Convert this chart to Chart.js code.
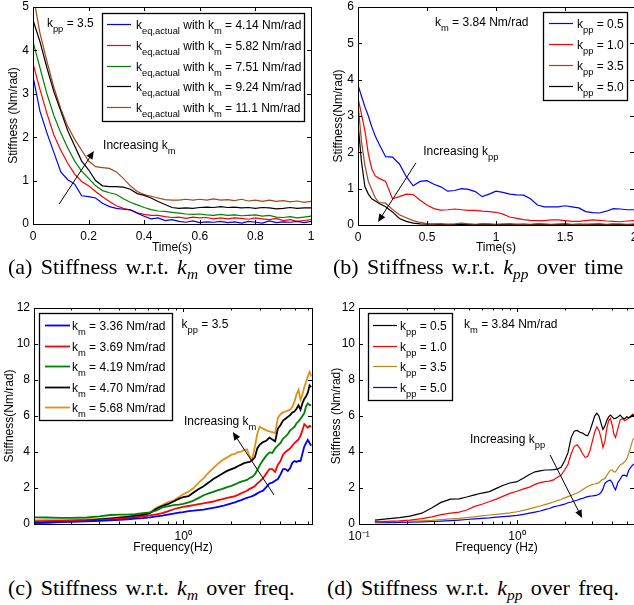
<!DOCTYPE html>
<html>
<head>
<meta charset="utf-8">
<script src="https://cdn.jsdelivr.net/npm/chart.js@4.4.1/dist/chart.umd.min.js"></script>
<style>
html,body{margin:0;padding:0;background:#fff;}
body{position:relative;width:634px;height:605px;overflow:hidden;}
canvas{position:absolute;}
.cap{position:absolute;font-family:'Liberation Serif','Times New Roman',serif;font-size:22px;word-spacing:2.8px;white-space:nowrap;color:#000;line-height:1;}
.cap i{font-style:italic;}
.cap sub{font-size:70%;vertical-align:baseline;position:relative;top:0.3em;font-style:italic;}
</style>
</head>
<body>
<canvas id="chartA" width="316" height="260" style="left:0;top:0"></canvas>
<canvas id="chartB" width="320" height="260" style="left:318px;top:0"></canvas>
<canvas id="chartC" width="316" height="260" style="left:0;top:300px"></canvas>
<canvas id="chartD" width="320" height="260" style="left:318px;top:300px"></canvas>
<div class="cap" style="left:8px;top:256px">(a) Stiffness w.r.t. <i>k</i><sub>m</sub> over time</div>
<div class="cap" style="left:333px;top:256px">(b) Stiffness w.r.t. <i>k</i><sub>pp</sub> over time</div>
<div class="cap" style="left:8px;top:577px">(c) Stiffness w.r.t. <i>k</i><sub>m</sub> over freq.</div>
<div class="cap" style="left:327px;top:577px">(d) Stiffness w.r.t. <i>k</i><sub>pp</sub> over freq.</div>
<script>
// ================== (a) stiffness over time, varying k_m ==================
const timeA = [0,0.025,0.05,0.075,0.1,0.125,0.15,0.175,0.2,0.225,0.25,0.275,0.3,0.325,0.35,0.375,0.4,0.425,0.45,0.475,0.5,0.525,0.55,0.575,0.6,0.625,0.65,0.675,0.7,0.725,0.75,0.775,0.8,0.825,0.85,0.875,0.9,0.925,0.95,0.975,1];
const km414A = [3.4,2.6,2.1,1.65,1.2,1.02,0.92,0.65,0.63,0.6,0.48,0.4,0.36,0.34,0.33,0.25,0.18,0.12,0.14,0.08,0.1,0.06,0.04,0.07,0.03,0.05,0.04,0.06,0.03,0.05,0.02,0.06,0.04,0.02,0.07,0.03,0.05,0.04,0.06,0.03,0.06];
const km582A = [3.7,3.1,2.55,2.05,1.7,1.4,1.15,0.98,0.88,0.75,0.63,0.52,0.42,0.36,0.32,0.26,0.22,0.2,0.2,0.17,0.15,0.16,0.13,0.16,0.14,0.15,0.12,0.14,0.12,0.14,0.13,0.11,0.14,0.12,0.1,0.13,0.08,0.1,0.06,0.08,0.1];
const km751A = [4.2,3.6,3.0,2.5,2.1,1.75,1.45,1.22,1.05,0.88,0.77,0.72,0.68,0.58,0.5,0.44,0.38,0.33,0.3,0.29,0.27,0.25,0.23,0.22,0.23,0.21,0.2,0.22,0.2,0.21,0.19,0.2,0.21,0.18,0.2,0.16,0.15,0.17,0.14,0.16,0.18];
const km924A = [4.7,4.2,3.6,3.05,2.6,2.15,1.8,1.45,1.25,1.0,0.88,0.86,0.86,0.85,0.8,0.7,0.66,0.6,0.52,0.45,0.38,0.36,0.37,0.36,0.38,0.39,0.38,0.4,0.38,0.39,0.37,0.38,0.36,0.38,0.37,0.35,0.36,0.38,0.36,0.37,0.37];
const km111A = [5.3,4.4,3.75,3.15,2.65,2.25,1.95,1.7,1.45,1.32,1.3,1.28,1.2,1.05,0.88,0.75,0.68,0.64,0.6,0.56,0.55,0.55,0.57,0.55,0.57,0.55,0.58,0.55,0.56,0.54,0.57,0.53,0.55,0.52,0.55,0.52,0.54,0.51,0.53,0.5,0.52];
const labelsA = ['k_{eq,actual} with k_{m} = 4.14 Nm/rad','k_{eq,actual} with k_{m} = 5.82 Nm/rad','k_{eq,actual} with k_{m} = 7.51 Nm/rad','k_{eq,actual} with k_{m} = 9.24 Nm/rad','k_{eq,actual} with k_{m} = 11.1 Nm/rad'];
const xTicksA = [0,0.2,0.4,0.6,0.8,1];
const yTicksA = [0,1,2,3,4,5];

// ================== (b) stiffness over time, varying k_pp ==================
const timeB = [0,0.025,0.05,0.075,0.1,0.125,0.15,0.2,0.25,0.3,0.35,0.4,0.45,0.5,0.55,0.6,0.65,0.7,0.75,0.8,0.85,0.9,0.95,1,1.05,1.1,1.15,1.2,1.25,1.3,1.35,1.4,1.45,1.5,1.55,1.6,1.65,1.7,1.75,1.8,1.85,1.9,1.95,2];
const kpp05B = [3.85,3.55,3.25,3.0,2.7,2.45,2.25,1.88,1.87,1.68,1.33,1.08,1.2,1.22,1.12,1.05,0.93,0.95,1.0,0.98,0.92,0.78,0.85,0.93,0.9,0.85,0.83,0.82,0.72,0.55,0.5,0.5,0.5,0.53,0.5,0.47,0.37,0.34,0.33,0.38,0.45,0.44,0.42,0.42];
const kpp10B = [3.5,3.05,2.6,1.95,1.55,1.35,1.29,1.2,0.72,0.78,0.85,0.84,0.68,0.55,0.45,0.41,0.42,0.44,0.42,0.4,0.4,0.38,0.37,0.35,0.3,0.22,0.18,0.15,0.13,0.12,0.12,0.14,0.14,0.12,0.1,0.1,0.12,0.14,0.13,0.11,0.1,0.09,0.11,0.12];
const kpp35B = [3.35,2.3,1.65,1.2,0.97,0.75,0.62,0.6,0.43,0.28,0.2,0.12,0.07,0.04,0.03,0.04,0.02,0.03,0.05,0.03,0.02,0.04,0.03,0.02,0.03,0.04,0.02,0.03,0.02,0.04,0.03,0.02,0.03,0.04,0.02,0.03,0.02,0.03,0.04,0.02,0.03,0.03,0.02,0.03];
const kpp50B = [2.8,1.75,1.06,0.85,0.72,0.66,0.6,0.5,0.36,0.18,0.1,0.05,0.03,0.02,0.02,0.01,0.02,0.01,0.01,0.02,0.01,0.01,0.02,0.01,0.01,0.01,0.02,0.01,0.01,0.02,0.01,0.01,0.01,0.02,0.01,0.01,0.02,0.01,0.01,0.01,0.02,0.01,0.01,0.01];
const labelsB = ['k_{pp} = 0.5','k_{pp} = 1.0','k_{pp} = 3.5','k_{pp} = 5.0'];
const xTicksB = [0,0.5,1,1.5,2];
const yTicksB = [0,1,2,3,4,5,6];

// ================== (c) stiffness over frequency, varying k_m ==================
const freqC = [0.117,0.14,0.17,0.2,0.25,0.3,0.35,0.4,0.45,0.5,0.56,0.62,0.68,0.74,0.8,0.87,0.94,1.0,1.08,1.16,1.25,1.34,1.44,1.54,1.65,1.76,1.88,2.0,2.1,2.2,2.3,2.4,2.5,2.6,2.7,2.8,2.9,3.0,3.15,3.3,3.45,3.6,3.75,3.9,4.05,4.2,4.35,4.5,4.65,4.8,4.95,5.1,5.25,5.4,5.55,5.7,5.85,6.0,6.15,6.3];
const km336C = [0.05,0.07,0.1,0.12,0.15,0.18,0.2,0.23,0.26,0.3,0.33,0.37,0.42,0.46,0.52,0.58,0.63,0.66,0.72,0.74,0.77,0.8,0.85,0.9,0.95,1.0,1.08,1.15,1.2,1.27,1.33,1.4,1.45,1.5,1.55,1.62,1.7,1.78,1.85,2.05,2.25,2.3,2.4,2.5,2.75,3.05,3.05,2.95,3.1,3.4,3.5,3.45,3.5,3.5,3.9,4.3,4.5,4.67,4.5,4.35];
const km369C = [0.15,0.16,0.17,0.18,0.2,0.22,0.26,0.3,0.33,0.37,0.42,0.48,0.54,0.6,0.7,0.82,0.9,0.95,1.0,1.05,1.1,1.15,1.2,1.25,1.32,1.38,1.45,1.5,1.55,1.62,1.7,1.78,1.85,1.95,2.02,2.1,2.25,2.35,2.55,2.8,3.05,3.05,2.9,3.3,3.5,3.85,4.0,4.1,4.2,4.35,4.5,4.6,4.7,4.9,5.2,5.55,5.45,5.35,5.45,5.4];
const km419C = [0.37,0.36,0.34,0.34,0.36,0.42,0.5,0.52,0.52,0.55,0.6,0.65,0.75,0.92,0.98,1.05,1.08,1.12,1.2,1.3,1.45,1.6,1.7,1.78,1.88,1.95,2.05,2.12,2.2,2.28,2.35,2.4,2.45,2.55,2.62,2.75,3.0,3.25,3.55,3.8,3.98,3.95,4.2,4.35,4.5,4.75,4.85,5.0,5.2,5.3,5.4,5.6,5.7,5.85,6.0,6.15,6.55,6.7,6.6,6.6];
const km470C = [0.1,0.12,0.15,0.17,0.2,0.25,0.3,0.35,0.4,0.45,0.5,0.6,0.85,1.0,1.1,1.25,1.4,1.5,1.55,1.75,1.95,2.1,2.3,2.5,2.65,2.8,2.95,3.05,3.12,3.22,3.3,3.38,3.42,3.45,3.55,3.7,4.2,4.4,4.55,4.62,4.8,4.7,4.6,5.3,5.5,5.75,5.85,5.95,6.05,6.2,6.25,6.4,6.6,6.35,6.7,6.95,7.1,7.3,7.7,7.6];
const km568C = [0.2,0.21,0.22,0.23,0.25,0.28,0.32,0.36,0.4,0.46,0.52,0.65,0.9,1.05,1.2,1.3,1.5,1.65,1.8,2.0,2.3,2.55,2.85,3.1,3.35,3.55,3.7,3.85,3.9,4.0,4.02,4.1,4.15,3.75,3.6,4.3,5.0,5.4,5.3,5.2,5.15,5.1,5.05,5.9,6.1,6.2,6.25,6.3,6.35,6.5,6.8,7.2,7.45,6.9,7.2,7.6,7.9,8.2,8.45,8.2];
const labelsC = ['k_{m} = 3.36 Nm/rad','k_{m} = 3.69 Nm/rad','k_{m} = 4.19 Nm/rad','k_{m} = 4.70 Nm/rad','k_{m} = 5.68 Nm/rad'];
const xTicksC = [1];
const yTicksCD = [0,2,4,6,8,10,12];

// ================== (d) stiffness over frequency, varying k_pp ==================
const freqD = [0.126,0.15,0.18,0.21,0.25,0.29,0.33,0.38,0.43,0.48,0.54,0.6,0.67,0.74,0.82,0.9,1.0,1.1,1.2,1.3,1.4,1.5,1.6,1.7,1.8,1.9,2.0,2.1,2.2,2.3,2.4,2.5,2.6,2.7,2.8,2.9,3.0,3.1,3.2,3.3,3.4,3.5,3.6,3.7,3.8,3.9,4.0,4.1,4.2,4.35,4.5,4.65,4.8,4.95,5.1,5.25,5.4,5.55];
const kpp05D = [0.22,0.28,0.35,0.44,0.6,0.9,1.2,1.38,1.4,1.5,1.62,1.72,1.8,1.98,2.15,2.28,2.35,2.55,2.75,2.9,2.95,3.0,3.0,3.02,3.05,3.15,3.5,3.95,4.8,5.15,5.2,5.1,5.05,4.95,4.9,5.2,5.6,6.0,6.15,6.0,5.6,5.25,5.45,5.75,5.95,6.05,5.95,5.85,5.87,5.95,6.05,5.9,5.85,5.96,5.9,5.95,6.06,6.0];
const kpp10D = [0.13,0.15,0.18,0.22,0.3,0.4,0.52,0.6,0.66,0.78,0.98,1.1,1.25,1.38,1.55,1.7,1.82,1.95,2.05,2.2,2.3,2.35,2.38,2.45,2.6,2.7,3.0,3.3,3.9,4.3,4.4,4.2,3.9,3.7,3.75,4.1,4.6,5.1,5.4,5.2,4.8,4.25,4.6,5.3,5.75,5.87,5.5,5.0,4.8,5.3,5.8,5.85,5.75,5.8,5.9,6.0,6.1,5.95];
const kpp35D = [0.12,0.13,0.14,0.16,0.18,0.2,0.24,0.28,0.31,0.35,0.4,0.45,0.5,0.54,0.58,0.62,0.68,0.76,0.84,0.92,1.0,1.08,1.15,1.22,1.3,1.36,1.45,1.52,1.58,1.65,1.72,1.8,1.9,2.0,2.08,2.15,2.2,2.22,2.26,2.3,2.4,2.48,2.54,2.7,2.85,3.0,3.0,2.9,2.9,3.1,3.28,3.35,3.46,3.6,3.93,4.3,4.67,4.8];
const kpp50D = [0.07,0.08,0.09,0.1,0.12,0.14,0.16,0.19,0.22,0.25,0.28,0.31,0.34,0.38,0.41,0.44,0.48,0.53,0.6,0.66,0.72,0.8,0.86,0.95,1.0,1.05,1.1,1.18,1.22,1.28,1.32,1.38,1.42,1.48,1.52,1.55,1.56,1.58,1.6,1.65,1.75,1.95,2.26,2.35,2.42,2.44,2.3,2.05,1.9,2.3,2.5,2.7,2.72,2.65,3.0,3.15,3.28,3.35];
const labelsD = ['k_{pp} = 0.5','k_{pp} = 1.0','k_{pp} = 3.5','k_{pp} = 5.0'];
const xTicksD = [0.1,1];

// =============== helpers ===============
const FONT = "'Liberation Sans', Arial, Helvetica, sans-serif";
const TF = {family: FONT, size: 12};

// draws "k_{m} = 3" style text, subscripts in braces; y is the baseline
function rich(ctx, str, x, y, size){
  const parts = str.split(/_\{([^}]*)\}/);
  let cx = x;
  parts.forEach((p, i) => {
    if(!p) return;
    const sub = i % 2 === 1;
    ctx.font = (sub ? size * 0.78 : size) + 'px ' + FONT;
    ctx.fillText(p, cx, sub ? y + size * 0.42 : y);
    cx += ctx.measureText(p).width;
  });
  return cx - x;
}

const supers = {'1':'10⁰','0.1':'10⁻¹'};

// MATLAB-like frame, inner ticks, boxed legend, notes and arrow
const matlab = {
  id: 'matlab',
  afterDatasetsDraw(chart, args, o){
    const {ctx, chartArea: a, scales: {x, y}} = chart;
    ctx.save();
    ctx.strokeStyle = '#000'; ctx.lineWidth = 1;
    ctx.beginPath();
    const vt = (px, len) => { px = Math.round(px) + 0.5; ctx.moveTo(px, a.bottom); ctx.lineTo(px, a.bottom - len); ctx.moveTo(px, a.top); ctx.lineTo(px, a.top + len); };
    const ht = (py, len) => { py = Math.round(py) + 0.5; ctx.moveTo(a.left, py); ctx.lineTo(a.left + len, py); ctx.moveTo(a.right, py); ctx.lineTo(a.right - len, py); };
    x.ticks.forEach(t => vt(x.getPixelForValue(t.value), 4));
    y.ticks.forEach(t => ht(y.getPixelForValue(t.value), 4));
    if(x.type === 'logarithmic'){
      [0.01, 0.1, 1, 10].forEach(d => { for(let k = 2; k < 10; k++){ const v = k * d; if(v > x.min && v < x.max) vt(x.getPixelForValue(v), 2.5); } });
    }
    ctx.stroke();
    ctx.strokeRect(Math.round(a.left) + 0.5, Math.round(a.top) + 0.5, Math.round(a.right - a.left), Math.round(a.bottom - a.top));

    // legend
    const g = o.legend;
    ctx.fillStyle = '#fff'; ctx.fillRect(g.x, g.y, g.w, g.h);
    ctx.lineWidth = 1.3; ctx.strokeStyle = '#000'; ctx.strokeRect(g.x + 0.5, g.y + 0.5, g.w, g.h);
    ctx.textAlign = 'left'; ctx.textBaseline = 'alphabetic';
    chart.data.datasets.forEach((ds, i) => {
      const cy = Math.round(g.row0 + i * g.step) + 0.5;
      ctx.strokeStyle = ds.borderColor; ctx.lineWidth = ds.borderWidth;
      ctx.beginPath(); ctx.moveTo(g.x0, cy); ctx.lineTo(g.x1, cy); ctx.stroke();
      ctx.fillStyle = '#000';
      rich(ctx, ds.label, g.tx, cy + 4, 12);
    });

    // notes
    ctx.fillStyle = '#000';
    (o.notes || []).forEach(n => rich(ctx, n.text, x.getPixelForValue(n.x), y.getPixelForValue(n.y), 12));

    // arrow
    if(o.arrow){
      const x0 = x.getPixelForValue(o.arrow.from[0]), y0 = y.getPixelForValue(o.arrow.from[1]);
      const x1 = x.getPixelForValue(o.arrow.to[0]), y1 = y.getPixelForValue(o.arrow.to[1]);
      const ang = Math.atan2(y1 - y0, x1 - x0), hl = 8, hw = 3.5;
      ctx.strokeStyle = '#000'; ctx.lineWidth = 1;
      ctx.beginPath(); ctx.moveTo(x0, y0); ctx.lineTo(x1 - Math.cos(ang) * hl * 0.7, y1 - Math.sin(ang) * hl * 0.7); ctx.stroke();
      const bx = x1 - Math.cos(ang) * hl, by = y1 - Math.sin(ang) * hl;
      ctx.beginPath();
      ctx.moveTo(x1, y1);
      ctx.lineTo(bx - Math.sin(ang) * hw, by + Math.cos(ang) * hw);
      ctx.lineTo(bx + Math.sin(ang) * hw, by - Math.cos(ang) * hw);
      ctx.closePath(); ctx.fill();
    }
    ctx.restore();
  }
};

function series(xs, list, labels, colors, width){
  return list.map((vals, i) => ({
    label: labels[i],
    data: vals.map((v, j) => ({x: xs[j], y: v})),
    borderColor: colors[i], borderWidth: width,
    pointRadius: 0, fill: false, tension: 0
  }));
}

function build(id, o){
  const fmt = o.xLog ? (v => supers[String(v)] || '') : (v => String(v));
  return new Chart(document.getElementById(id), {
    type: 'line',
    data: {datasets: o.datasets},
    options: {
      responsive: false, animation: false, devicePixelRatio: 1,
      layout: {padding: o.pad},
      plugins: {legend: {display: false}, tooltip: {enabled: false}, matlab: o.deco},
      scales: {
        x: {
          type: o.xLog ? 'logarithmic' : 'linear', min: o.xMin, max: o.xMax,
          grid: {display: false, drawTicks: false}, border: {display: false},
          ticks: {font: TF, color: '#000', padding: 5, autoSkip: false, maxRotation: 0, callback: fmt},
          afterBuildTicks: s => { s.ticks = o.xTicks.map(v => ({value: v})); },
          title: {display: true, text: o.xTitle, font: TF, color: '#000', padding: {top: 0, bottom: o.xTitlePad}},
          afterFit: s => { s.height = o.xH; s.paddingLeft = 0; s.paddingRight = 0; }
        },
        y: {
          type: 'linear', min: o.yMin, max: o.yMax,
          grid: {display: false, drawTicks: false}, border: {display: false},
          ticks: {font: TF, color: '#000', padding: 4, callback: v => String(v)},
          afterBuildTicks: s => { s.ticks = o.yTicks.map(v => ({value: v})); },
          title: {display: true, text: o.yTitle, font: TF, color: '#000', padding: {top: o.yTitlePad, bottom: 0}},
          afterFit: s => { s.width = o.yW; s.paddingTop = 0; s.paddingBottom = 0; }
        }
      }
    },
    plugins: [matlab]
  });
}

// =============== draw the four panels ===============
build('chartA', {
  datasets: series(timeA, [km414A, km582A, km751A, km924A, km111A], labelsA, ['#0000ff','#ff0000','#008000','#000000','#a8441a'], 1.2),
  pad: {top: 7, right: 5, left: 0, bottom: 0},
  xMin: 0, xMax: 1, xTicks: xTicksA, xTitle: 'Time(s)', xTitlePad: 5, xH: 36,
  yMin: 0, yMax: 5, yTicks: yTicksA, yTitle: 'Stiffness (Nm/rad)', yTitlePad: 6, yW: 33,
  deco: {
    legend: {x: 102, y: 13, w: 202, h: 108, row0: 24, step: 20.8, x0: 107, x1: 131, tx: 136},
    notes: [{x: 0.05, y: 4.53, text: 'k_{pp} = 3.5'}, {x: 0.252, y: 1.73, text: 'Increasing k_{m}'}],
    arrow: {from: [0.094, 0.46], to: [0.219, 1.68]}
  }
});

build('chartB', {
  datasets: series(timeB, [kpp05B, kpp10B, kpp35B, kpp50B], labelsB, ['#0000ff','#ff0000','#a0441a','#000000'], 1.2),
  pad: {top: 7, right: 4, left: 0, bottom: 0},
  xMin: 0, xMax: 2, xTicks: xTicksB, xTitle: 'Time(s)', xTitlePad: 5, xH: 35,
  yMin: 0, yMax: 6, yTicks: yTicksB, yTitle: 'Stiffness(Nm/rad)', yTitlePad: 13, yW: 40,
  deco: {
    legend: {x: 225, y: 12, w: 84, h: 88, row0: 23, step: 21, x0: 231, x1: 255, tx: 259},
    notes: [{x: 0.558, y: 5.48, text: 'k_{m} = 3.84 Nm/rad'}, {x: 0.473, y: 1.93, text: 'Increasing k_{pp}'}],
    arrow: {from: [0.42, 1.71], to: [0.145, 0.08]}
  }
});

build('chartC', {
  datasets: series(freqC, [km336C, km369C, km419C, km470C, km568C], labelsC, ['#0000ff','#ff0000','#008000','#000000','#e39016'], 1.8),
  pad: {top: 8, right: 4, left: 0, bottom: 0},
  xLog: true, xMin: 0.117, xMax: 6.37, xTicks: xTicksC, xTitle: 'Frequency(Hz)', xTitlePad: 5, xH: 36,
  yMin: 0, yMax: 12, yTicks: yTicksCD, yTitle: 'Stiffness(Nm/rad)', yTitlePad: 2, yW: 34,
  deco: {
    legend: {x: 39, y: 13, w: 133, h: 107, row0: 25, step: 20.5, x0: 45, x1: 70, tx: 72},
    notes: [{x: 0.977, y: 10.87, text: 'k_{pp} = 3.5'}, {x: 1.01, y: 5.5, text: 'Increasing k_{m}'}],
    arrow: {from: [3.69, 1.61], to: [2.04, 5.11]}
  }
});

build('chartD', {
  datasets: series(freqD, [kpp05D, kpp10D, kpp35D, kpp50D], labelsD, ['#000000','#ff0000','#b8861b','#0000ff'], 1.2),
  pad: {top: 8, right: 4, left: 0, bottom: 0},
  xLog: true, xMin: 0.1, xMax: 5.5, xTicks: xTicksD, xTitle: 'Frequency (Hz)', xTitlePad: 5, xH: 36,
  yMin: 0, yMax: 12, yTicks: yTicksCD, yTitle: 'Stiffness (Nm/rad)', yTitlePad: 11.5, yW: 41,
  deco: {
    legend: {x: 50, y: 13, w: 84, h: 87, row0: 25, step: 20.7, x0: 55, x1: 79, tx: 82},
    notes: [{x: 0.462, y: 10.87, text: 'k_{m} = 3.84 Nm/rad'}, {x: 0.504, y: 4.48, text: 'Increasing k_{pp}'}],
    arrow: {from: [1.62, 3.83], to: [2.58, 0.33]}
  }
});
</script>
</body>
</html>
